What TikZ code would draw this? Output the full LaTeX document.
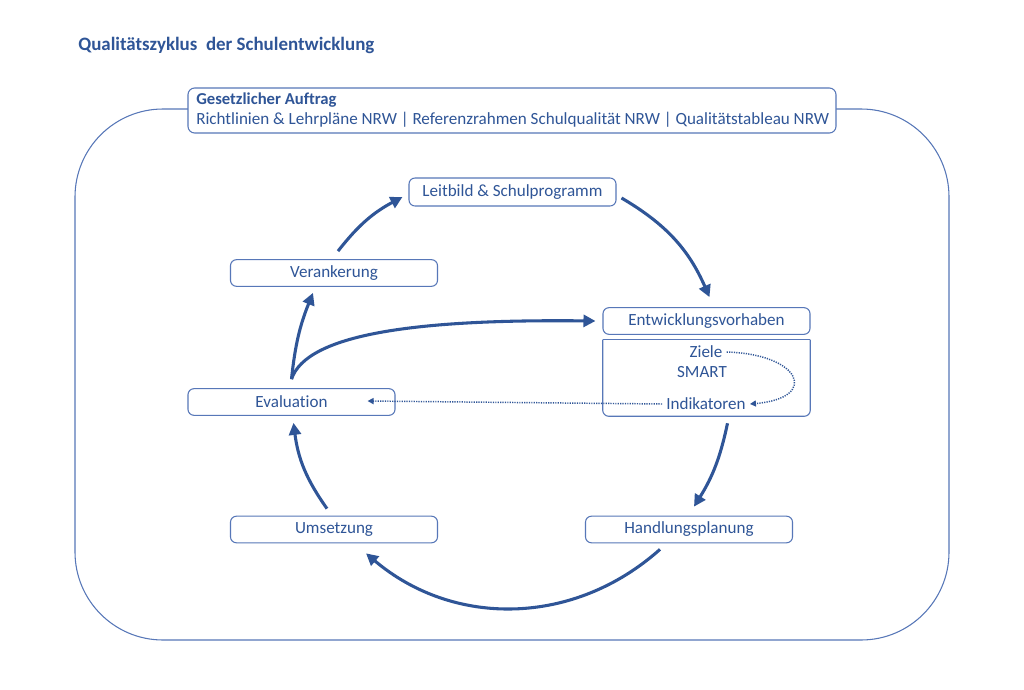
\documentclass[tikz,border=0pt]{standalone}
\usepackage{fontspec}
\setmainfont{Carlito}[Ligatures=NoCommon]
\usetikzlibrary{arrows.meta}
\definecolor{txtc}{HTML}{2F5597}
\definecolor{boxc}{HTML}{5777B8}
\definecolor{arrc}{HTML}{2F5597}
\begin{document}
\begin{tikzpicture}[x=0.75pt,y=-0.75pt,
  stepbox/.style={draw=boxc,line width=0.8pt,rounded corners=4.5pt,fill=white,
    minimum width=155.25pt,minimum height=20pt,inner sep=0pt,text=txtc,
    font=\fontsize{12.8pt}{14pt}\selectfont},
  plain/.style={inner sep=0pt,text=txtc,font=\fontsize{12.8pt}{14pt}\selectfont},
  bigarrow/.style={draw=arrc,line width=2.3pt,-{Triangle[length=9pt,width=9pt]}},
  dotarrow/.style={draw=arrc,line width=1.1pt,dash pattern=on 0.9pt off 0.9pt,
    -{Triangle[length=4.5pt,width=4.5pt]}}]
\useasboundingbox (0,0) rectangle (1024,689);
\fill[white] (0,0) rectangle (1024,689);
% title
\node[anchor=west,inner sep=0pt,text=txtc,font=\bfseries\fontsize{14.2pt}{16pt}\selectfont] (title) at (78,45) {Qualitätszyklus\ \ der Schulentwicklung};
% outer frame
\draw[draw=boxc,line width=0.8pt,rounded corners=66pt] (75,109) rectangle (949,640);
% Gesetzlicher Auftrag
\node[draw=boxc,line width=0.8pt,rounded corners=5pt,fill=white,minimum width=486pt,minimum height=33.75pt,inner sep=0pt] (ges) at (512,110.5) {};
\node[anchor=west,inner sep=0pt,text=txtc,font=\bfseries\fontsize{12.5pt}{14pt}\selectfont] (gest) at (196,100) {Gesetzlicher Auftrag};
\node[anchor=west,inner sep=0pt,text=txtc,font=\fontsize{12.8pt}{14pt}\selectfont] (gesl) at (196,120) {Richtlinien \& Lehrpläne NRW | Referenzrahmen Schulqualität NRW | Qualitätstableau NRW};
% boxes
\node[stepbox,minimum height=21pt] (leit) at (512.5,192) {Leitbild \& Schulprogramm};
\node[stepbox] (verank) at (334,273) {Verankerung};
\node[stepbox] (entw) at (706.5,321) {Entwicklungsvorhaben};
\node[inner sep=0pt,minimum width=155.25pt,minimum height=57pt] (zb) at (706.5,378) {};
\draw[draw=boxc,line width=0.8pt,rounded corners=4.5pt] (zb.north west) -- (zb.south west) -- (zb.south east) -- (zb.north east);
\draw[draw=boxc,line width=0.8pt] (zb.north west) -- (zb.north east);
\node[plain] (ziele) at (706,352) {Ziele};
\node[plain] (smart) at (702,372) {SMART};
\node[plain] (indik) at (706,404) {Indikatoren};
\node[stepbox] (eval) at (291.5,402) {Evaluation};
\node[stepbox] (ums) at (334,529.5) {Umsetzung};
\node[stepbox] (handl) at (689,529.5) {Handlungsplanung};
% cycle arrows
\draw[bigarrow] ([shift={(4,-8)}]verank.north) to[bend left=12] ([shift={(-6,5)}]leit.west);
\draw[bigarrow] ([shift={(5,6)}]leit.east) to[bend left=18] ([shift={(3,-10)}]entw.north);
\draw[bigarrow] ([shift={(21,7)}]zb.south) to[bend left=10] ([shift={(5,-9)}]handl.north);
\draw[bigarrow] ([shift={(-29,6)}]handl.south) to[bend left=41] ([shift={(32,10)}]ums.south);
\draw[bigarrow] ([shift={(-7,-7)}]ums.north) to[bend left=14] ([shift={(2,7)}]eval.south);
\draw[bigarrow] ([shift={(0,-9)}]eval.north) to[bend left=8] ([shift={(-21,6)}]verank.south);
\draw[bigarrow] ([shift={(0,-9)}]eval.north) .. controls +(15,-45) and +(-180,-2) .. ([shift={(-7,0)}]entw.west);
% dotted arrows
\draw[dotarrow] ([xshift=3]ziele.east) .. controls +(74,2) and +(70,-6) .. ([xshift=3]indik.east);
\draw[dotarrow] ([xshift=-3]indik.west) -- ([shift={(-28,-1)}]eval.east);
\end{tikzpicture}
\end{document}
